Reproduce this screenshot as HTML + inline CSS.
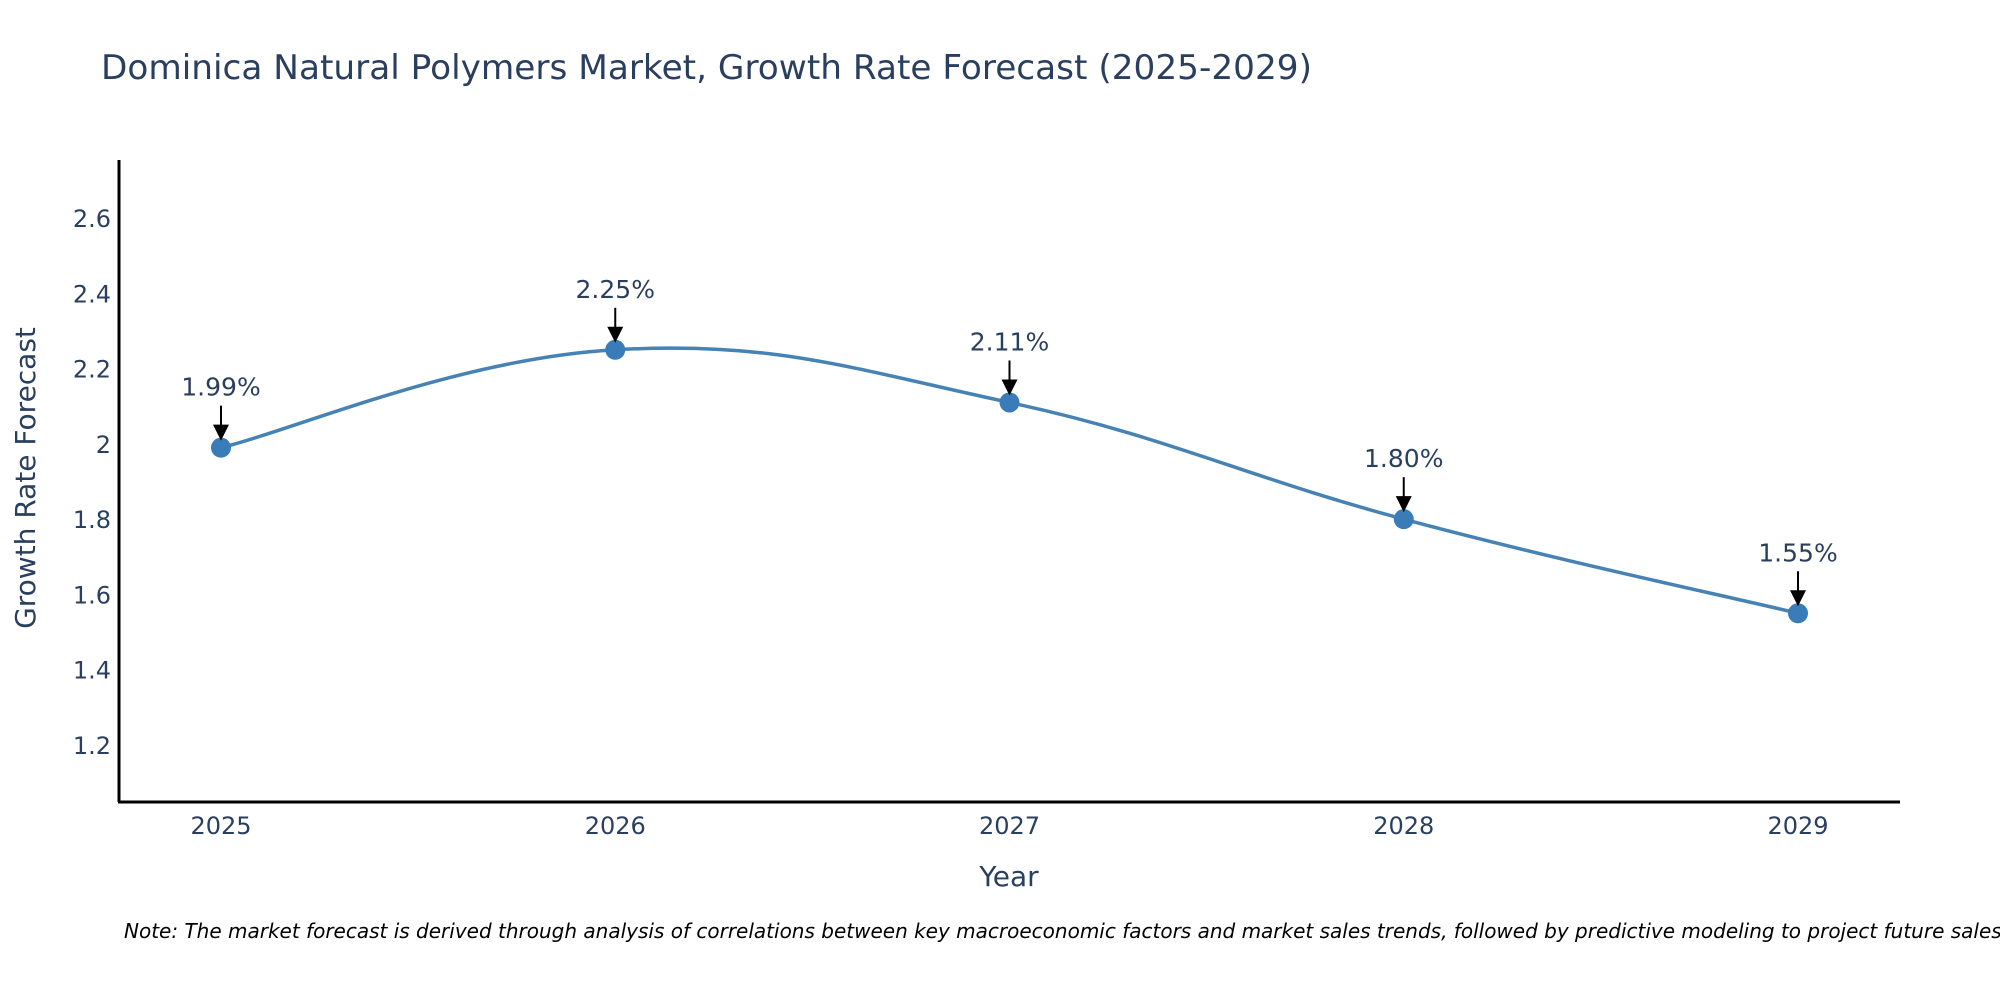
<!DOCTYPE html>
<html><head><meta charset="utf-8"><style>
html,body{margin:0;padding:0;background:#fff;}
svg{display:block;font-family:"DejaVu Sans","Liberation Sans",sans-serif;}
</style></head><body>
<svg id="chart" width="2000" height="1000" viewBox="0 0 2000 1000">
<text x="101" y="79" font-size="34" fill="#2a3f5f" textLength="1211" lengthAdjust="spacingAndGlyphs">Dominica Natural Polymers Market, Growth Rate Forecast (2025-2029)</text>
<g id="yticks"></g>
<g id="xticks"></g>
<line x1="119" y1="160" x2="119" y2="802" stroke="#000" stroke-width="3"/>
<line x1="118" y1="802" x2="1900" y2="802" stroke="#000" stroke-width="3"/>
<text transform="translate(35,478) rotate(-90)" text-anchor="middle" font-size="28" fill="#2a3f5f">Growth Rate Forecast</text>
<text x="1009" y="886" text-anchor="middle" font-size="28" fill="#2a3f5f">Year</text>
<g id="series"></g>
<g id="annots"></g>
<text x="124" y="938" font-size="20" font-style="italic" fill="#000">Note: The market forecast is derived through analysis of correlations between key macroeconomic factors and market sales trends, followed by predictive modeling to project future sales.</text>
</svg>
<script>
const years = [2025, 2026, 2027, 2028, 2029];
const growth = [1.99, 2.25, 2.11, 1.80, 1.55];
const labels = ["1.99%", "2.25%", "2.11%", "1.80%", "1.55%"];
const yTickVals = [1.2, 1.4, 1.6, 1.8, 2, 2.2, 2.4, 2.6];
const yTickLabels = ["1.2", "1.4", "1.6", "1.8", "2", "2.2", "2.4", "2.6"];

const NS = "http://www.w3.org/2000/svg";
function xs(yr){ return 221 + (yr - 2025) * 394.25; }
function ys(v){ return 745 - (v - 1.2) * 376.4; }
function mk(tag, attrs, parent){
  const e = document.createElementNS(NS, tag);
  for (const k in attrs) e.setAttribute(k, attrs[k]);
  parent.appendChild(e);
  return e;
}
const yt = document.getElementById('yticks');
yTickVals.forEach((v,i)=>{
  const t = mk('text', {x:111, y:ys(v)+9, 'text-anchor':'end', 'font-size':24, fill:'#2a3f5f'}, yt);
  
  
  t.textContent = yTickLabels[i];
});
const xt = document.getElementById('xticks');
years.forEach(yr=>{
  const t = mk('text', {x:xs(yr), y:834, 'text-anchor':'middle', 'font-size':24, fill:'#2a3f5f'}, xt);
  
  
  t.textContent = String(yr);
});
const pts = years.map((yr,i)=>[xs(yr), ys(growth[i])]);
let d = `M${pts[0][0]},${pts[0][1]}`;
const s = 0.2;
for (let i=0;i<pts.length-1;i++){
  const p0 = pts[Math.max(0,i-1)], p1 = pts[i], p2 = pts[i+1], p3 = pts[Math.min(pts.length-1,i+2)];
  const c1 = [p1[0]+(p2[0]-p0[0])*s, p1[1]+(p2[1]-p0[1])*s];
  const c2 = [p2[0]-(p3[0]-p1[0])*s, p2[1]-(p3[1]-p1[1])*s];
  d += ` C${c1[0]},${c1[1]} ${c2[0]},${c2[1]} ${p2[0]},${p2[1]}`;
}
const ser = document.getElementById('series');
const line = mk('path', {d:d, fill:'none', stroke:'#4682b4', 'stroke-width':3.5}, ser);


pts.forEach(p=>{
  const c = mk('circle', {cx:p[0], cy:p[1], r:10, fill:'#3a7cb8'}, ser);
  
  
});
const an = document.getElementById('annots');
pts.forEach((p,i)=>{
  const l = mk('line', {x1:p[0], y1:p[1]-42, x2:p[0], y2:p[1]-20, stroke:'#000', 'stroke-width':2}, an);
  
  
  const h = mk('polygon', {points:`${p[0]-8},${p[1]-23} ${p[0]+8},${p[1]-23} ${p[0]},${p[1]-7}`, fill:'#000'}, an);
  
  
  const t = mk('text', {x:p[0], y:p[1]-52, 'text-anchor':'middle', 'font-size':25, fill:'#2a3f5f'}, an);
  
  
  t.textContent = labels[i];
});
</script>
</body></html>
